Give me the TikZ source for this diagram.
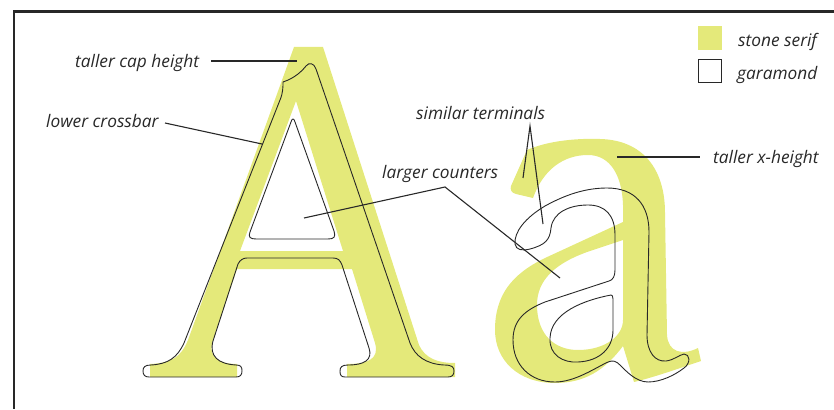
\documentclass[tikz,border=0pt]{standalone}
\usepackage{fontspec}
\setmainfont{Open Sans}
\definecolor{stone}{RGB}{228,233,122}
\definecolor{ink}{RGB}{40,40,40}
\begin{document}
\begin{tikzpicture}[x=1pt,y=-1pt,
  stonefill/.style={fill=stone, draw=none, even odd rule},
  garaline/.style={draw=ink, line width=0.9pt, line join=round},
  leader/.style={draw=ink, line width=1.1pt},
  lbl/.style={inner sep=0pt, anchor=base west, font=\fontsize{17.3}{20}\selectfont\itshape, text=ink}]
\useasboundingbox (0,0) rectangle (834,409);
% frame
\draw[ink, line width=2.5pt] (834,11.5) -- (14,11.5) -- (14,409);
% Stone Serif A
\path[stonefill] (294,47) -- (323,47) -- (419,345)
 .. controls (425,358) and (437,363) .. (455,363) -- (455,377) -- (347,377) -- (347,364)
 .. controls (366,364) and (380,360) .. (375,343) -- (352,269) -- (237,269) -- (213,340)
 .. controls (207,358) and (220,364) .. (237,364) -- (237,377) -- (150,377) -- (150,364)
 .. controls (172,363) and (181,357) .. (188,340) -- cycle
 (296,101) -- (343,251) -- (240,251) -- cycle;
% Stone Serif a
\path[stonefill] (527,150) .. controls (545,142) and (572,138) .. (600,139)
 .. controls (642,140) and (665,168) .. (665,213) -- (667,335)
 .. controls (668,352) and (682,356) .. (698,348) -- (701,361)
 .. controls (680,368) and (655,377) .. (634,382) -- (623,346)
 .. controls (605,370) and (585,383) .. (555,383)
 .. controls (518,383) and (495,360) .. (495,330)
 .. controls (495,295) and (512,274) .. (545,258) -- (623,222) -- (623,205)
 .. controls (622,175) and (610,155) .. (588,155)
 .. controls (563,155) and (543,170) .. (533,198)
 -- (516,194) .. controls (511,193) and (510,189) .. (511,186) -- cycle
 (623,240) -- (590,251) .. controls (555,263) and (537,280) .. (537,305)
 .. controls (537,335) and (555,350) .. (578,350)
 .. controls (605,350) and (623,336) .. (623,320) -- cycle;
% Garamond A
\draw[garaline] (283,82) .. controls (295,78) and (302,71) .. (306,66)
 .. controls (309,62) and (314,63) .. (316,69) -- (410,343)
 .. controls (415,356) and (426,364) .. (444,365)
 .. controls (452,365) and (454,367) .. (454,371)
 .. controls (454,375) and (452,377) .. (448,377) -- (345,377)
 .. controls (341,377) and (340,375) .. (340,371)
 .. controls (340,367) and (342,365) .. (348,365)
 .. controls (364,365) and (373,360) .. (369,348) -- (342,265)
 .. controls (340,260) and (338,258) .. (333,258) -- (247,258)
 .. controls (243,258) and (240,260) .. (238,264) -- (213,341)
 .. controls (209,356) and (218,364) .. (236,365)
 .. controls (241,365) and (242,367) .. (242,371)
 .. controls (242,375) and (240,377) .. (236,377) -- (149,377)
 .. controls (145,377) and (143,375) .. (143,371)
 .. controls (143,367) and (145,365) .. (151,365)
 .. controls (168,364) and (177,358) .. (184,343) -- (280,100)
 .. controls (283,93) and (283,87) .. cycle;
\draw[garaline] (291,122) .. controls (292,118) and (294,118) .. (295,122) -- (334,231)
 .. controls (336,237) and (334,239) .. (328,239) -- (256,239)
 .. controls (250,239) and (248,237) .. (250,232) -- cycle;
% Garamond a
\draw[garaline] (515,244) .. controls (514,232) and (525,218) .. (545,206)
 .. controls (565,195) and (585,188) .. (607,188)
 .. controls (635,188) and (649,205) .. (649,232) -- (647,335)
 .. controls (647,352) and (655,362) .. (666,361)
 .. controls (674,360) and (679,355) .. (684,354)
 .. controls (690,354) and (691,363) .. (684,368)
 .. controls (675,375) and (661,382) .. (648,382)
 .. controls (636,382) and (626,371) .. (620,365)
 .. controls (616,361) and (613,360) .. (608,362)
 .. controls (595,368) and (575,382) .. (555,382)
 .. controls (530,382) and (513,365) .. (513,340)
 .. controls (513,320) and (525,310) .. (545,302) -- (609,281)
 .. controls (613,280) and (615,276) .. (615,270) -- (615,235)
 .. controls (615,215) and (605,205) .. (588,205)
 .. controls (570,205) and (553,212) .. (551,228)
 .. controls (550,240) and (545,245) .. (530,249)
 .. controls (522,251) and (516,250) .. cycle;
\draw[garaline] (611,295) .. controls (585,300) and (551,312) .. (550,338)
 .. controls (549,355) and (563,363) .. (578,362)
 .. controls (600,361) and (613,348) .. (613,330) -- (613,299)
 .. controls (613,296) and (612,295) .. cycle;
% labels
\node[lbl] (tcap) at (75,68) {taller cap height};
\node[lbl] (lcb) at (46,127) {lower crossbar};
\node[lbl] (sim) at (416,119) {similar terminals};
\node[lbl] (lc) at (382,178) {larger counters};
\node[lbl] (txh) at (713,163) {taller x-height};
\node[lbl] (ss) at (738,47) {stone serif};
\node[lbl] (gar) at (737,80) {garamond};
% legend swatches
\node[fill=stone, draw=none, minimum size=24pt, inner sep=0pt] (sw1) at (710,38) {};
\node[draw=ink, line width=1pt, minimum size=23pt, inner sep=0pt] (sw2) at (710,71) {};
% connector end points
\coordinate (capA) at (211,61); \coordinate (capB) at (297,61);
\coordinate (crA) at (165,123); \coordinate (crB) at (262,144);
\coordinate (cnA) at (304,218); \coordinate (cnM) at (445,187); \coordinate (cnB) at (560,278);
\coordinate (tmM) at (530,126); \coordinate (tmA) at (523,178); \coordinate (tmB) at (543,224);
\coordinate (xhA) at (617,157); \coordinate (xhB) at (700,157);
\draw[leader] (capA) -- (capB);
\draw[leader] (crA) -- (crB);
\draw[leader] (cnA) -- (cnM) -- (cnB);
\draw[leader] (tmA) -- (tmM) -- (tmB);
\draw[leader] (xhA) -- (xhB);
\end{tikzpicture}
\end{document}
